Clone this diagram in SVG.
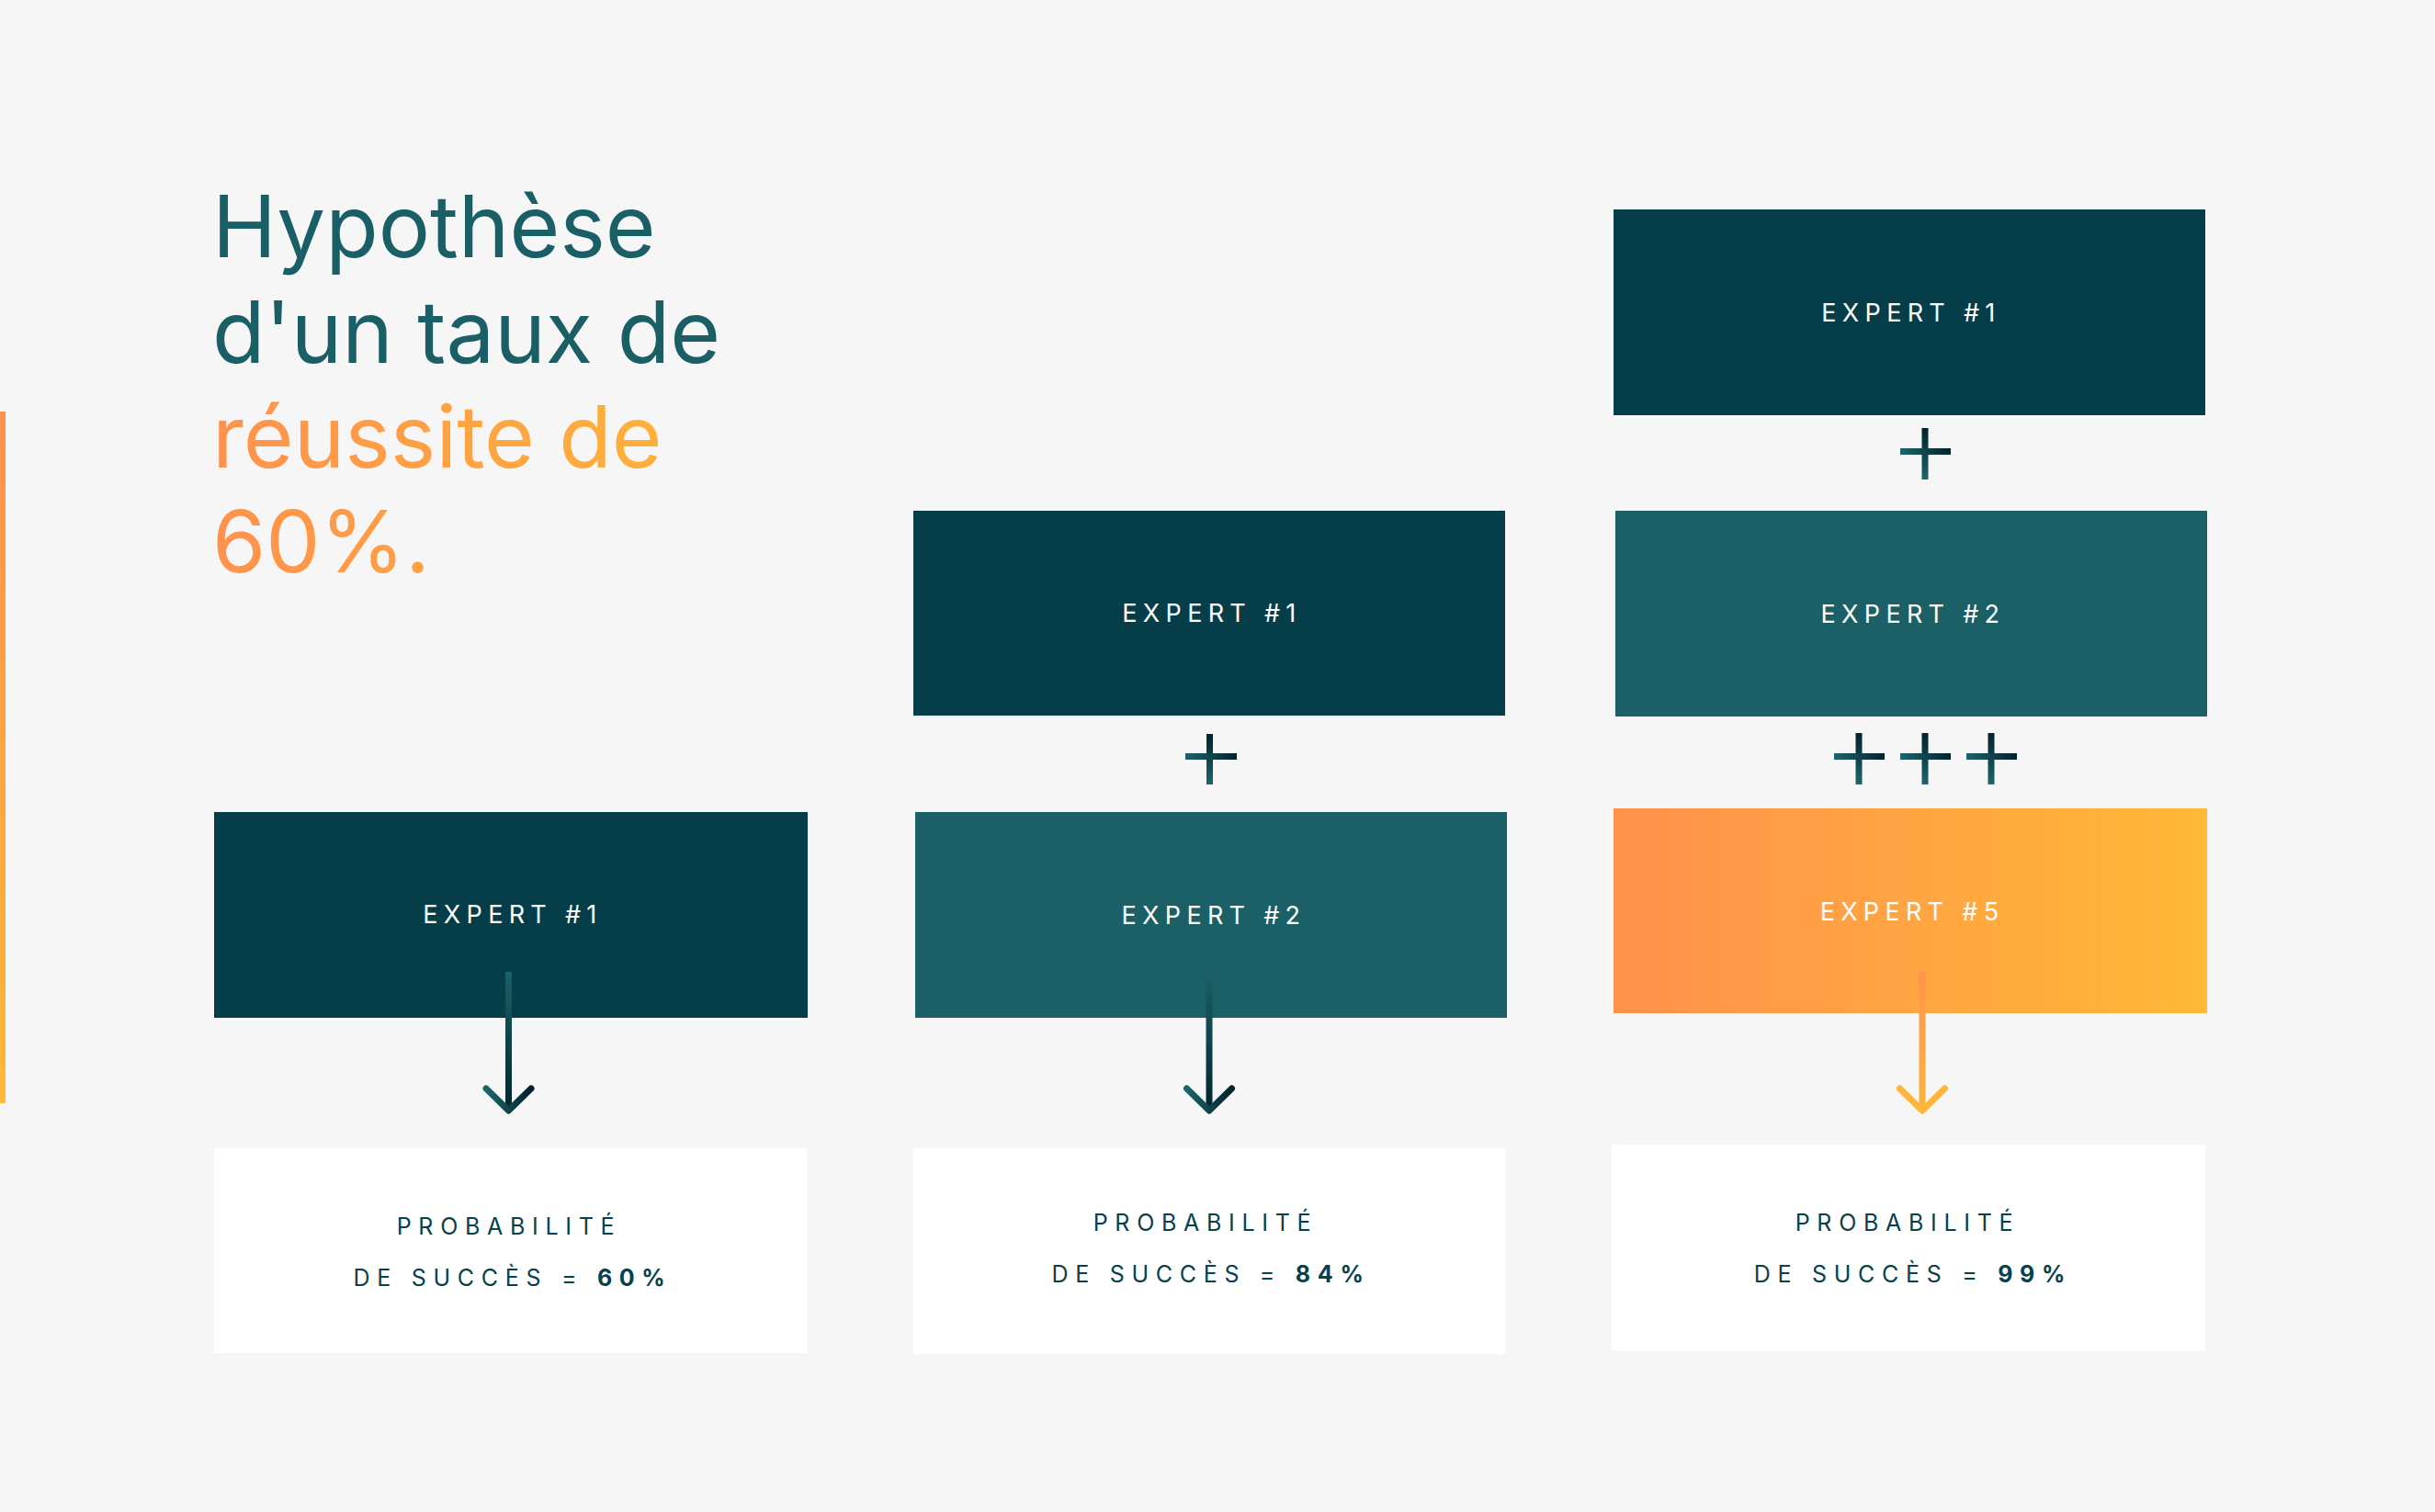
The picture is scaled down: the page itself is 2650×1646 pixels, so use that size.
<svg xmlns="http://www.w3.org/2000/svg" width="2650" height="1646" viewBox="0 0 2650 1646">
  <defs>
    <linearGradient id="gOrangeH" x1="0" y1="0" x2="1" y2="0">
      <stop offset="0" stop-color="#FF914D"/>
      <stop offset="1" stop-color="#FFB937"/>
    </linearGradient>
    <linearGradient id="gOrangeV" x1="0" y1="0" x2="0" y2="1">
      <stop offset="0" stop-color="#FF914D"/>
      <stop offset="1" stop-color="#FFB937"/>
    </linearGradient>
    <linearGradient id="gTitle" gradientUnits="userSpaceOnUse" x1="232" y1="0" x2="740" y2="0">
      <stop offset="0" stop-color="#FF924D"/>
      <stop offset="1" stop-color="#FFB23A"/>
    </linearGradient>
    <linearGradient id="gLineTeal" gradientUnits="userSpaceOnUse" x1="0" y1="1058" x2="0" y2="1209">
      <stop offset="0" stop-color="#1C6068"/>
      <stop offset="1" stop-color="#02252D"/>
    </linearGradient>
    <linearGradient id="gLineOrange" gradientUnits="userSpaceOnUse" x1="0" y1="1058" x2="0" y2="1209">
      <stop offset="0" stop-color="#FF934D"/>
      <stop offset="1" stop-color="#FFB43A"/>
    </linearGradient>
    <linearGradient id="gTealH" x1="0" y1="0" x2="1" y2="0">
      <stop offset="0" stop-color="#1D646C"/>
      <stop offset="1" stop-color="#02232B"/>
    </linearGradient>
    <linearGradient id="gPlusV" x1="0" y1="1" x2="0" y2="0">
      <stop offset="0" stop-color="#1D646C"/>
      <stop offset="1" stop-color="#02232B"/>
    </linearGradient>
    <style>
      .bg { fill: #F6F6F6; }
      .dark { fill: #053E48; }
      .mid { fill: #1B5F67; }
      .orange { fill: url(#gOrangeH); }
      .prob { fill: #FFFFFF; }
      .lbl { font-family: Inter, "Liberation Sans", sans-serif; font-size: 27px; letter-spacing: 6.3px; fill: #FFFFFF; text-anchor: middle; }
      .ptxt { font-family: Inter, "Liberation Sans", sans-serif; font-size: 25px; letter-spacing: 7.7px; fill: #07414A; text-anchor: middle; }
      .ptxt .b { font-weight: 700; }
      .title { font-family: Inter, "Liberation Sans", sans-serif; font-size: 94px; }
      .tealT { fill: #1A5E66; }
      .orT { fill: url(#gTitle); }
      .ln { fill: none; stroke-width: 7; stroke-linecap: butt; }
      .chev { fill: none; stroke-width: 7; stroke-linecap: round; stroke-linejoin: round; }
      .tl { stroke: url(#gLineTeal); }
      .tc { stroke: url(#gTealH); }
      .ol { stroke: url(#gLineOrange); }
      .pv { fill: url(#gPlusV); }
      .ph { fill: url(#gTealH); }
    </style>
  </defs>

  <rect class="bg" x="0" y="0" width="2650" height="1646"/>

  <!-- left accent bar -->
  <rect x="0" y="448" width="6" height="753" fill="url(#gOrangeV)"/>

  <!-- title -->
  <g id="title" class="title">
    <text class="tealT" x="231" y="280">Hypothèse</text>
    <text class="tealT" x="231" y="395">d'un taux de</text>
    <text class="orT" x="231" y="509">réussite de</text>
    <text class="orT" x="231" y="623">60%.</text>
  </g>

  <!-- column 1 -->
  <g id="c1-expert1">
    <rect class="dark" x="233" y="884" width="646" height="224"/>
    <text class="lbl" x="558" y="1005">EXPERT #1</text>
  </g>
  <g id="c1-result">
    <rect class="prob" x="233" y="1250" width="645" height="223"/>
    <text class="ptxt" x="554" y="1344">PROBABILITÉ</text>
    <text class="ptxt" x="558" y="1400">DE SUCCÈS = <tspan class="b">60%</tspan></text>
  </g>

  <!-- column 2 -->
  <g id="c2-expert1">
    <rect class="dark" x="994" y="556" width="644" height="223"/>
    <text class="lbl" x="1319" y="677">EXPERT #1</text>
  </g>
  <g id="c2-expert2">
    <rect class="mid" x="996" y="884" width="644" height="224"/>
    <text class="lbl" x="1321" y="1006">EXPERT #2</text>
  </g>
  <g id="c2-result">
    <rect class="prob" x="994" y="1250" width="644" height="224"/>
    <text class="ptxt" x="1312" y="1340">PROBABILITÉ</text>
    <text class="ptxt" x="1318" y="1396">DE SUCCÈS = <tspan class="b">84%</tspan></text>
  </g>

  <!-- column 3 -->
  <g id="c3-expert1">
    <rect class="dark" x="1756" y="228" width="644" height="224"/>
    <text class="lbl" x="2080" y="350">EXPERT #1</text>
  </g>
  <g id="c3-expert2">
    <rect class="mid" x="1758" y="556" width="644" height="224"/>
    <text class="lbl" x="2082" y="678">EXPERT #2</text>
  </g>
  <g id="c3-expert5">
    <rect class="orange" x="1756" y="880" width="646" height="223"/>
    <text class="lbl" x="2081" y="1002">EXPERT #5</text>
  </g>
  <g id="c3-result">
    <rect class="prob" x="1754" y="1246" width="646" height="224"/>
    <text class="ptxt" x="2076" y="1340">PROBABILITÉ</text>
    <text class="ptxt" x="2082" y="1396">DE SUCCÈS = <tspan class="b">99%</tspan></text>
  </g>

  <!-- connectors -->
  <g id="connectors">
    <!-- plus signs -->
    <rect class="pv" x="1313" y="799" width="7" height="55"/>
    <rect class="ph" x="1290" y="820" width="56" height="7"/>

    <rect class="pv" x="2091.5" y="466" width="7" height="56"/>
    <rect class="ph" x="2068" y="488" width="55" height="7"/>

    <rect class="pv" x="2019.5" y="798" width="7" height="56"/>
    <rect class="ph" x="1996" y="820" width="55" height="7"/>
    <rect class="pv" x="2091.5" y="798" width="7" height="56"/>
    <rect class="ph" x="2068" y="820" width="55" height="7"/>
    <rect class="pv" x="2163.5" y="798" width="7" height="56"/>
    <rect class="ph" x="2140" y="820" width="55" height="7"/>

    <!-- arrows -->
    <path class="ln tl" d="M553.5 1058 V1208"/>
    <path class="chev tc" d="M529 1185 L553.5 1209 L578 1185"/>

    <path class="ln tl" d="M1316 1058 V1208"/>
    <path class="chev tc" d="M1291.5 1185 L1316 1209 L1340.5 1185"/>

    <path class="ln ol" d="M2092 1058 V1208"/>
    <path class="chev" stroke="#FFB43A" d="M2067.5 1185 L2092 1209 L2116.5 1185"/>
  </g>
</svg>
